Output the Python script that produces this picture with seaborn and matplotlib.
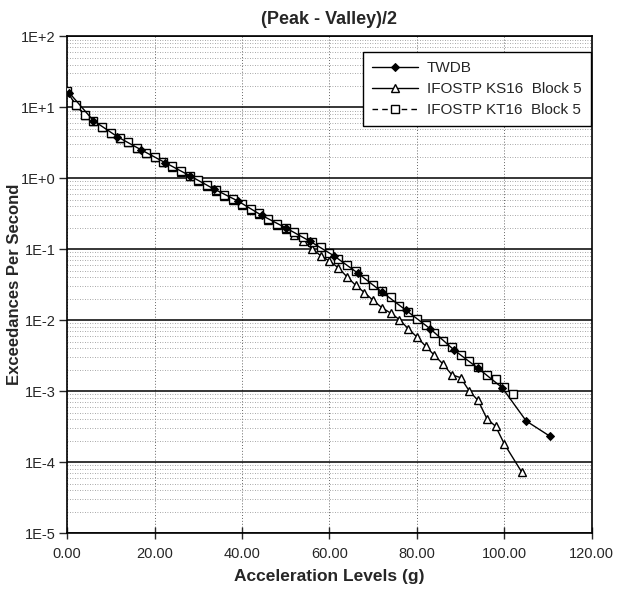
import math
import matplotlib
matplotlib.use("Agg")
import matplotlib.pyplot as plt
import seaborn as sns
from matplotlib.ticker import FixedLocator, FuncFormatter, LogLocator, NullFormatter

# TWDB
twdb_x = [0.5, 6, 11.5, 17, 22.5, 28, 33.5, 39, 44.5, 50, 55.5, 61, 66.5, 72,
          77.5, 83, 88.5, 94, 99.5, 105, 110.5]
twdb_y = [16, 6.5, 3.85, 2.5, 1.65, 1.09, 0.71, 0.48, 0.30, 0.20, 0.13, 0.081,
          0.046, 0.025, 0.0138, 0.0076, 0.0038, 0.0021, 0.00112, 0.00038, 0.00023]

# IFOSTP KS16 Block 5
ks16_x = list(range(0, 101, 2)) + [104]
ks16_y = [16.8, 10.7, 7.9, 6.5, 5.2, 4.4, 3.7, 3.2, 2.7, 2.3,
          2.0, 1.7, 1.46, 1.24, 1.06, 0.91, 0.78, 0.66, 0.57, 0.49,
          0.42, 0.36, 0.31, 0.26, 0.22, 0.19, 0.158, 0.129, 0.102, 0.081,
          0.068, 0.055, 0.041, 0.031, 0.0245, 0.019, 0.015, 0.0126, 0.0102, 0.0076,
          0.0058, 0.0043, 0.0032, 0.0024, 0.0017, 0.00155, 0.0010, 0.00074, 0.00041, 0.00032,
          0.00018, 0.000072]

# IFOSTP KT16 Block 5
kt16_x = list(range(0, 103, 2))
kt16_y = [16.8, 10.7, 7.9, 6.5, 5.2, 4.4, 3.7, 3.2, 2.7, 2.3,
          2.0, 1.7, 1.48, 1.26, 1.09, 0.94, 0.81, 0.69, 0.59, 0.51,
          0.44, 0.37, 0.32, 0.27, 0.23, 0.20, 0.174, 0.148, 0.126, 0.107,
          0.089, 0.072, 0.059, 0.049, 0.038, 0.031, 0.026, 0.021, 0.016, 0.0132,
          0.0105, 0.0085, 0.0066, 0.0051, 0.0042, 0.0032, 0.0027, 0.0022, 0.0017, 0.0015,
          0.00115, 0.00091]

sns.set_style("white")
plt.rcParams['font.family'] = ['Liberation Sans Narrow', 'Liberation Sans', 'DejaVu Sans']

fig, ax = plt.subplots(figsize=(6.21, 5.95), dpi=100)
fig.subplots_adjust(left=0.108, right=0.953, bottom=0.104, top=0.939)

sns.lineplot(x=twdb_x, y=twdb_y, ax=ax, color="black", lw=1, marker="D",
             markersize=4, markerfacecolor="black", markeredgecolor="black",
             label="TWDB", zorder=4)
sns.lineplot(x=ks16_x, y=ks16_y, ax=ax, color="black", lw=1, marker="^",
             markersize=6, markerfacecolor="white", markeredgecolor="black",
             markeredgewidth=1, label="IFOSTP KS16  Block 5", zorder=3)
sns.lineplot(x=kt16_x, y=kt16_y, ax=ax, color="black", lw=1, ls=(0, (4, 3)),
             marker="s", markersize=6, markerfacecolor="white",
             markeredgecolor="black", markeredgewidth=1,
             label="IFOSTP KT16  Block 5", zorder=3)

ax.set_yscale("log")
ax.set_xlim(0, 120)
ax.set_ylim(1e-5, 1e2)

ax.xaxis.set_major_locator(FixedLocator([0, 20, 40, 60, 80, 100, 120]))
ax.xaxis.set_major_formatter(FuncFormatter(lambda v, p: f"{v:.2f}"))
ax.yaxis.set_major_locator(LogLocator(base=10, numticks=10))
ax.yaxis.set_minor_locator(LogLocator(base=10, subs=range(2, 10), numticks=20))
ax.yaxis.set_minor_formatter(NullFormatter())


def efmt(v, p):
    e = int(round(math.log10(v)))
    return f"1E{'+' if e >= 0 else '-'}{abs(e)}"


ax.yaxis.set_major_formatter(FuncFormatter(efmt))

ax.grid(which="major", axis="y", color="black", lw=1.1, ls="-")
ax.grid(which="minor", axis="y", color="#8a8a8a", lw=0.6, ls=(0, (1, 2)))
ax.grid(which="major", axis="x", color="#666666", lw=0.7, ls=(0, (1, 2)))
ax.set_axisbelow(True)

ax.tick_params(axis="y", which="major", direction="out", length=6, width=1,
               left=True, labelsize=10.5, pad=2)
ax.tick_params(axis="y", which="minor", length=0)
ax.tick_params(axis="x", which="major", direction="inout", length=8, width=1,
               bottom=True, labelsize=10.5, pad=6)

for s in ax.spines.values():
    s.set_color("black")
    s.set_linewidth(1.2)

ax.set_title("(Peak - Valley)/2", fontsize=13, fontweight="bold", pad=9)
ax.set_xlabel("Acceleration Levels (g)", fontsize=12.5, fontweight="bold", labelpad=6)
ax.set_ylabel("Exceedances Per Second", fontsize=12, fontweight="bold")
ax.yaxis.set_label_coords(-0.085, 0.5)

leg = ax.legend(loc="upper right", bbox_to_anchor=(0.998, 0.968), borderaxespad=0,
                fancybox=False, frameon=True, edgecolor="black", fontsize=11,
                handlelength=3, labelspacing=0.45, borderpad=0.6,
                handletextpad=0.6, framealpha=1)
leg.get_frame().set_linewidth(1)

fig.savefig("out.png", dpi=100)
